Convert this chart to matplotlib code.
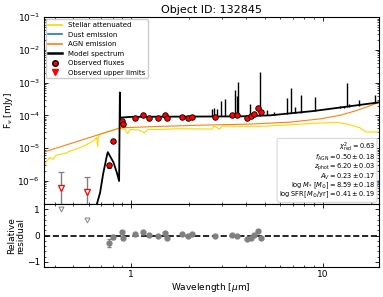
import matplotlib
matplotlib.use("Agg")
import matplotlib.pyplot as plt
import numpy as np
from matplotlib.ticker import AutoMinorLocator
from matplotlib.lines import Line2D

# model spectrum continuum (um, mJy)
model_wave = [0.655, 0.689, 0.714, 0.747, 0.756, 0.777, 0.809, 0.842, 0.866,
              0.874, 0.877, 1.0, 1.417, 2.29, 3.70, 5.31, 6.75, 8.9, 13.4, 19.7]
model_flux = [1.5e-7, 4.3e-7, 1.57e-6, 5.7e-6, 7.5e-6, 5.6e-6, 3.66e-6, 1.8e-6, 9.8e-7,
              5.0e-4, 8.5e-5, 9.0e-5, 9.1e-5, 9.2e-5, 9.3e-5, 1.0e-4, 1.15e-4, 1.35e-4,
              1.85e-4, 2.5e-4]

# emission lines in the model spectrum
line_wave = [2.645, 2.72, 2.80, 2.94, 3.10, 3.50, 3.57, 3.605, 4.20, 4.725, 5.10, 5.57,
             6.48, 6.84, 7.16, 7.72, 9.12, 12.3, 12.9, 13.4, 13.8, 15.5, 18.7]
line_base = [9.3e-5, 9.3e-5, 9.3e-5, 9.3e-5, 9.3e-5, 9.3e-5, 9.3e-5, 9.3e-5, 9.7e-5, 9.8e-5,
             1.0e-4, 1.03e-4, 1.12e-4, 1.15e-4, 1.18e-4, 1.22e-4, 1.32e-4, 1.65e-4, 1.72e-4,
             1.8e-4, 1.85e-4, 2.0e-4, 2.4e-4]
line_peak = [1.6e-4, 1.72e-4, 1.53e-4, 2.74e-4, 3.1e-4, 5.9e-4, 4.0e-4, 1.07e-3, 2.2e-4,
             2.17e-3, 1.5e-4, 1.23e-4, 3.5e-4, 7.0e-4, 1.8e-4, 4.1e-4, 3.7e-4, 1.9e-4,
             2.0e-4, 9.5e-4, 2.3e-4, 2.9e-4, 4.1e-4]

# stellar attenuated
star_wave = [0.35, 0.363, 0.378, 0.392, 0.406, 0.426, 0.453, 0.481, 0.510, 0.542, 0.575,
             0.611, 0.641, 0.662, 0.670, 0.675, 0.689, 0.732, 0.777, 0.835, 0.876,
             0.887, 0.930, 0.961, 0.988, 1.114, 1.17, 1.22, 1.417, 1.80, 2.645, 2.71,
             2.90, 3.0, 4.70, 6.75, 8.9, 11.9, 13.7, 15.6, 16.8, 19.7]
star_flux = [2.75e-6, 4.0e-6, 5.2e-6, 4.5e-6, 6.0e-6, 6.4e-6, 6.9e-6, 8.1e-6, 9.1e-6,
             1.03e-5, 1.2e-5, 1.46e-5, 1.72e-5, 2.1e-5, 1.1e-5, 2.2e-5, 2.6e-5, 3.0e-5,
             3.3e-5, 3.7e-5, 4.2e-5, 3.9e-5, 3.7e-5, 2.8e-5, 3.7e-5, 3.5e-5, 2.9e-5,
             3.7e-5, 3.7e-5, 3.9e-5, 3.8e-5, 4.7e-5, 3.8e-5, 4.7e-5, 4.6e-5, 5.1e-5,
             5.7e-5, 6.1e-5, 5.3e-5, 4.2e-5, 3.1e-5, 3.1e-5]

# AGN emission
agn_wave = [0.35, 0.876, 1.417, 2.29, 4.17, 6.75, 9.7, 12.3, 14.7, 17.2, 19.7]
agn_flux = [7.5e-6, 4.15e-5, 4.6e-5, 5.0e-5, 5.4e-5, 6.2e-5, 7.8e-5, 1.0e-4, 1.35e-4,
            1.85e-4, 2.5e-4]

# dust emission (only the very end is in view)
dust_wave = [17.5, 18.6, 19.7]
dust_flux = [1.0e-7, 4.0e-7, 1.0e-6]

# observed fluxes
obs_wave = [0.768, 0.80, 0.901, 0.905, 1.049, 1.151, 1.246, 1.388, 1.504, 1.535, 1.838,
            1.976, 2.088, 2.74, 3.35, 3.56, 4.04, 4.23, 4.38, 4.59, 4.78]
obs_flux = [3.0e-6, 1.64e-5, 6.7e-5, 5.3e-5, 8.5e-5, 1.02e-4, 8.5e-5, 8.5e-5, 1.0e-4,
            8.1e-5, 9.1e-5, 8.1e-5, 9.1e-5, 9.1e-5, 1.02e-4, 1.02e-4, 8.5e-5, 9.5e-5,
            1.1e-4, 1.64e-4, 1.26e-4]
obs_err = [6e-7, 1.5e-6, 3e-6, 3e-6, 3e-6, 3e-6, 3e-6, 3e-6, 3e-6, 3e-6, 3e-6,
           3e-6, 3e-6, 3e-6, 3e-6, 3e-6, 3e-6, 3e-6, 3e-6, 4e-6, 4e-6]
res = [-0.29, -0.05, 0.13, -0.08, 0.04, 0.13, 0.01, 0.0, 0.09, -0.08, 0.06,
       -0.01, 0.05, -0.01, 0.01, -0.01, -0.12, -0.08, 0.01, 0.17, -0.08]
res_err = [0.15, 0.07, 0.03, 0.03, 0.02, 0.02, 0.02, 0.02, 0.02, 0.02, 0.02,
           0.02, 0.02, 0.02, 0.02, 0.02, 0.02, 0.02, 0.02, 0.02, 0.02]

# upper limits
ul_wave = [0.431, 0.592]
ul_flux = [5.9e-7, 4.6e-7]
ul_top = [1.8e-6, 1.3e-6]
ul_res = [1.0, 0.58]

params = (r"$\chi^2_{\rm red} = 0.63$" "\n"
          r"$f_{\rm AGN} = 0.50 \pm 0.18$" "\n"
          r"$z_{\rm phot} = 6.20 \pm 0.03$" "\n"
          r"$A_V = 0.23 \pm 0.17$" "\n"
          r"$\log M_* \, [M_{\odot}] = 8.59 \pm 0.18$" "\n"
          r"$\log {\rm SFR} \, [M_{\odot}/{\rm yr}] = 0.41 \pm 0.19$")

fig = plt.figure(figsize=(3.83, 2.97), dpi=100)
ax1 = fig.add_axes([0.1136, 0.3131, 0.876, 0.6287])
ax2 = fig.add_axes([0.1136, 0.101, 0.876, 0.2121], sharex=ax1)

ax1.plot(star_wave, star_flux, color='gold', lw=0.8)
ax1.plot(dust_wave, dust_flux, color='C0', lw=0.8)
ax1.plot(agn_wave, agn_flux, color='#ff7f0e', lw=0.8)
ax1.plot(model_wave, model_flux, color='k', lw=1.3)
ax1.vlines(line_wave, line_base, line_peak, color='k', lw=1.0)

ul_flux = np.array(ul_flux)
ax1.errorbar(ul_wave, ul_flux, yerr=[ul_flux * 0.99, np.array(ul_top) - ul_flux],
             fmt='v', color='gray', mfc='white', mec='red', ms=4, mew=0.9, capsize=2,
             elinewidth=1.0, zorder=5)
ax1.errorbar(obs_wave, obs_flux, yerr=obs_err, fmt='o', color='k', mfc='red',
             mec='k', ms=4, mew=0.6, elinewidth=0.8, capsize=1.5, zorder=6)

ax1.set_xscale('log')
ax1.set_yscale('log')
ax1.set_xlim(0.349, 19.7)
ax1.set_ylim(1.94e-7, 1e-1)
ax1.set_ylabel(r'F$_\nu$ [mJy]', fontsize=6.5, labelpad=2)
ax1.set_title('Object ID: 132845', fontsize=8, pad=3)
ax1.tick_params(labelbottom=False)

handles = [Line2D([], [], color='gold', lw=1.2),
           Line2D([], [], color='C0', lw=1.2),
           Line2D([], [], color='#ff7f0e', lw=1.2),
           Line2D([], [], color='k', lw=1.8),
           Line2D([], [], marker='o', color='k', mfc='red', mec='k', ms=4, ls='none'),
           Line2D([], [], marker='v', color='gray', mfc='red', mec='red', ms=4, ls='none')]
labels = ['Stellar attenuated', 'Dust emission', 'AGN emission', 'Model spectrum',
          'Observed fluxes', 'Observed upper limits']
ax1.legend(handles, labels, loc='upper left', fontsize=5, borderaxespad=0.3,
           handlelength=2.0, labelspacing=0.5, framealpha=1)

ax1.text(0.988, 0.02, params, transform=ax1.transAxes, ha='right', va='bottom',
         fontsize=4.8, linespacing=0.8,
         bbox=dict(boxstyle='round,pad=0.3', fc='white', ec='0.8', lw=0.6))

ax2.errorbar(obs_wave, res, yerr=res_err, fmt='o', color='gray', ms=3.5,
             elinewidth=0.8, capsize=1.5)
ax2.plot(ul_wave, ul_res, 'v', color='gray', mfc='white', ms=3.5, mew=0.7)
ax2.axhline(0, color='k', ls='--', lw=1.2)
ax2.set_ylim(-1.2, 1.2)
ax2.set_yticks([-1, 0, 1])
ax2.yaxis.set_minor_locator(AutoMinorLocator(5))
ax2.set_xlabel(r'Wavelength [$\mu$m]', fontsize=6.5, labelpad=1)
ax2.set_ylabel('Relative\nresidual', fontsize=6.5, labelpad=1, linespacing=1.0)
ax2.xaxis.set_major_formatter(matplotlib.ticker.FuncFormatter(lambda v, p: '%g' % v))

for ax in (ax1, ax2):
    ax.tick_params(which='both', direction='in', top=True, right=True, labelsize=6.5,
                   pad=2.5)
    ax.tick_params(which='major', length=3, width=0.6)
    ax.tick_params(which='minor', length=1.5, width=0.5)
    for s in ax.spines.values():
        s.set_linewidth(0.8)

fig.savefig('out.png', dpi=100)
